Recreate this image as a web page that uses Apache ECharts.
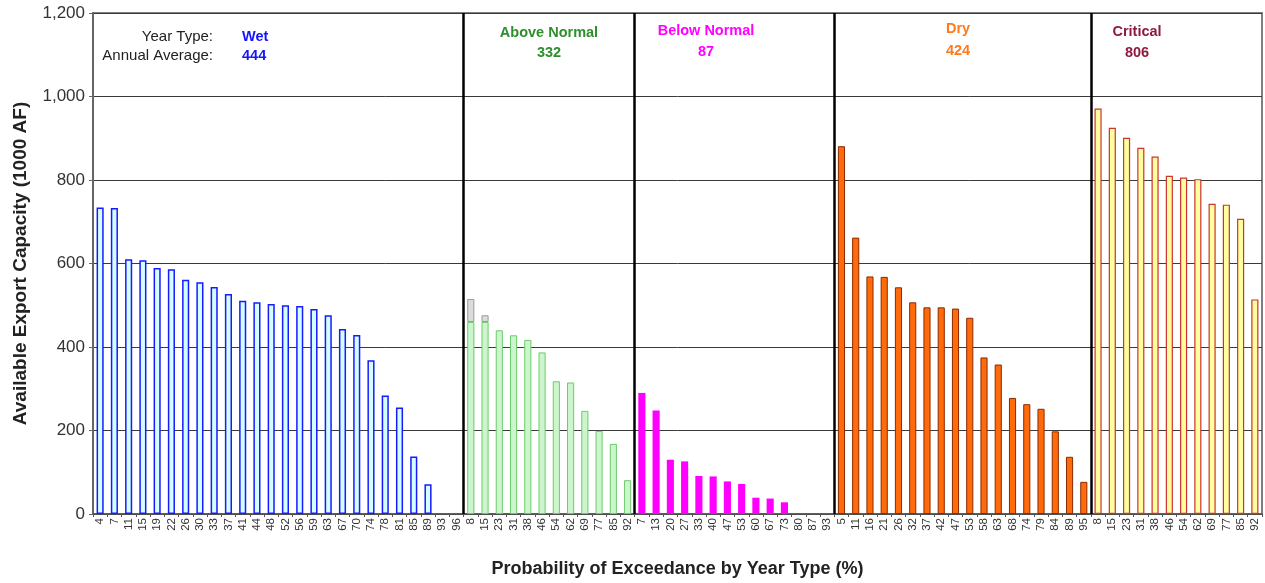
<!DOCTYPE html>
<html>
<head>
<meta charset="utf-8">
<title>Available Export Capacity by Year Type</title>
<script src="https://cdn.jsdelivr.net/npm/echarts@6/dist/echarts.min.js"></script>
<style>
  html, body { margin: 0; padding: 0; background: #fff; }
  #chart { width: 1265px; height: 583px; }
</style>
</head>
<body>
<div id="chart"></div>
<script>
// Probability of exceedance (%) within each year type
const wetLabels = ['4','7','11','15','19','22','26','30','33','37','41','44','48','52','56','59','63','67','70','74','78','81','85','89','93','96'];
const aboveNormalLabels = ['8','15','23','31','38','46','54','62','69','77','85','92'];
const belowNormalLabels = ['7','13','20','27','33','40','47','53','60','67','73','80','87','93'];
const dryLabels = ['5','11','16','21','26','32','37','42','47','53','58','63','68','74','79','84','89','95'];
const criticalLabels = ['8','15','23','31','38','46','54','62','69','77','85','92'];

// Available export capacity (1000 AF)
const wetValues = [734,733,610,608,589,586,561,555,544,527,511,507,503,500,498,491,476,443,429,368,284,255,138,71,0,0];
const aboveNormalValues = [460,460,440,428,417,387,318,315,247,199,168,81];
const aboveNormalExcess = [55,16,0,0,0,0,0,0,0,0,0,0];
const belowNormalValues = [290,248,130,126,91,90,78,72,39,37,28,0,0,0];
const dryValues = [881,662,569,568,543,507,495,495,492,470,375,358,278,263,252,198,137,77];
const criticalValues = [971,925,901,877,856,810,806,802,743,741,707,514];

// Year type headers and annual averages
const yearTypes = ['Wet','Above Normal','Below Normal','Dry','Critical'];
const annualAverages = ['444','332','87','424','806'];

const groups = [wetLabels, aboveNormalLabels, belowNormalLabels, dryLabels, criticalLabels];
const categories = [].concat(...groups);
const total = categories.length;

// Place one group's values at its slots on the shared category axis
function placeGroup(groupIndex, values) {
  const out = new Array(total).fill('-');
  let start = 0;
  for (let i = 0; i < groupIndex; i++) start += groups[i].length;
  values.forEach((v, i) => { out[start + i] = v === 0 ? '-' : v; });
  return out;
}

// Group boundaries for the divider lines
const boundaries = [];
let acc = 0;
for (let i = 0; i < groups.length - 1; i++) { acc += groups[i].length; boundaries.push(acc); }

const barCommon = { type: 'bar', stack: 'all', barWidth: '50%', silent: true };

const chart = echarts.init(document.getElementById('chart'), null, { renderer: 'canvas' });

const labelFont = 'Arial, "Liberation Sans", sans-serif';
const headerColors = ['#1414ff', '#2f8f2f', '#ff00ff', '#ff7a1a', '#8e1b3d'];
const headerX = [242, 549, 706, 958, 1137];
const headerY1 = [37, 33, 31, 29, 32];
const headerY2 = [56, 53, 52, 51, 53];

const graphics = [
  { type: 'text', x: 213, y: 37, style: { text: 'Year Type:', font: '15px ' + labelFont, fill: '#222', textAlign: 'right', textVerticalAlign: 'middle' } },
  { type: 'text', x: 213, y: 56, style: { text: 'Annual Average:', font: '15px ' + labelFont, fill: '#222', textAlign: 'right', textVerticalAlign: 'middle' } }
];
yearTypes.forEach((name, i) => {
  const align = i === 0 ? 'left' : 'center';
  graphics.push({ type: 'text', x: headerX[i], y: headerY1[i], style: { text: name, font: 'bold 14.5px ' + labelFont, fill: headerColors[i], textAlign: align, textVerticalAlign: 'middle' } });
  graphics.push({ type: 'text', x: headerX[i], y: headerY2[i], style: { text: annualAverages[i], font: 'bold 14.5px ' + labelFont, fill: headerColors[i], textAlign: align, textVerticalAlign: 'middle' } });
});

chart.setOption({
  animation: false,
  backgroundColor: '#ffffff',
  grid: { left: 93, right: 3, top: 13, bottom: 63, show: true, borderColor: '#7f7f7f', borderWidth: 2, backgroundColor: '#ffffff' },
  xAxis: [
    {
      type: 'category',
      data: categories,
      boundaryGap: true,
      name: 'Probability of Exceedance by Year Type (%)',
      nameLocation: 'middle',
      nameGap: 46,
      nameTextStyle: { fontFamily: labelFont, fontWeight: 'bold', fontSize: 18, color: '#222' },
      axisLine: { lineStyle: { color: '#555', width: 1.5 } },
      axisTick: { show: true, interval: 0, length: 3, lineStyle: { color: '#555' } },
      axisLabel: { interval: 0, rotate: 90, fontSize: 11.5, fontFamily: labelFont, color: '#333', margin: 4 }
    },
    { type: 'value', min: 0, max: total, show: false }
  ],
  yAxis: {
    type: 'value',
    min: 0, max: 1200, interval: 200,
    name: 'Available Export Capacity (1000 AF)',
    nameLocation: 'middle',
    nameGap: 63,
    nameTextStyle: { fontFamily: labelFont, fontWeight: 'bold', fontSize: 19, color: '#222' },
    axisLine: { show: true, lineStyle: { color: '#666', width: 2 } },
    axisTick: { show: true, length: 4, lineStyle: { color: '#666' } },
    axisLabel: { fontSize: 17, fontFamily: labelFont, color: '#333', margin: 8, formatter: v => v.toLocaleString('en-US') },
    splitLine: { lineStyle: { color: '#3a3a3a', width: 1 } }
  },
  graphic: graphics,
  series: [
    Object.assign({}, barCommon, { name: 'Wet', data: placeGroup(0, wetValues),
      itemStyle: { color: '#d2ffff', borderColor: '#1a1aff', borderWidth: 1.5 } }),
    Object.assign({}, barCommon, { name: 'Above Normal', data: placeGroup(1, aboveNormalValues),
      itemStyle: { color: '#cdf5cd', borderColor: '#6ccc6c', borderWidth: 1 } }),
    Object.assign({}, barCommon, { name: 'Above Normal excess', data: placeGroup(1, aboveNormalExcess),
      itemStyle: { color: '#dcdcdc', borderColor: '#9a9a9a', borderWidth: 1 } }),
    Object.assign({}, barCommon, { name: 'Below Normal', data: placeGroup(2, belowNormalValues),
      itemStyle: { color: '#ff00ff', borderColor: '#ff00ff', borderWidth: 0 } }),
    Object.assign({}, barCommon, { name: 'Dry', data: placeGroup(3, dryValues),
      itemStyle: { color: '#ff6a0a', borderColor: '#8b2a00', borderWidth: 1 } }),
    Object.assign({}, barCommon, { name: 'Critical', data: placeGroup(4, criticalValues),
      itemStyle: { color: '#ffff9e', borderColor: '#cc3333', borderWidth: 1.2 } }),
    {
      type: 'line',
      name: 'Dividers',
      xAxisIndex: 1,
      data: [],
      silent: true,
      markLine: {
        silent: true,
        symbol: 'none',
        label: { show: false },
        lineStyle: { color: '#000', width: 2.5, type: 'solid' },
        data: boundaries.map(b => ({ xAxis: b }))
      }
    }
  ]
});
</script>
</body>
</html>
